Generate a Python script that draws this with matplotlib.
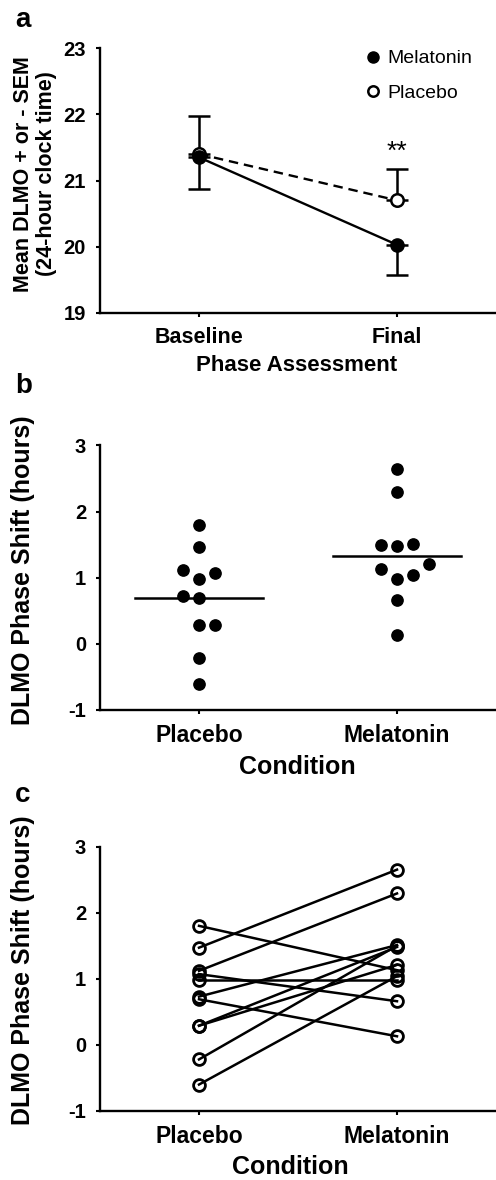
import numpy as np
import matplotlib.pyplot as plt
from matplotlib.lines import Line2D

plt.rcParams['font.family'] = ['Liberation Sans', 'DejaVu Sans']
plt.rcParams['axes.unicode_minus'] = False

# Panel a: group mean DLMO (24-hour clock time) and SEM
phases = ['Baseline', 'Final']
melatonin_mean = [21.35, 20.03]
melatonin_sem = [0.48, 0.46]
placebo_mean = [21.40, 20.70]
placebo_sem = [0.57, 0.47]

# Panels b and c: individual DLMO phase shifts (hours)
conditions = ['Placebo', 'Melatonin']
placebo_shift = [1.80, 1.47, 1.12, 1.07, 0.98, 0.73, 0.69, 0.29, 0.29, -0.22, -0.60]
melatonin_shift = [2.65, 2.29, 1.50, 1.48, 1.51, 1.21, 1.13, 1.04, 0.98, 0.66, 0.13]
# melatonin value of the same subject, in placebo_shift order (panel c)
melatonin_paired = [1.13, 2.65, 2.29, 0.66, 0.98, 1.51, 0.13, 1.48, 1.21, 1.50, 1.04]

# dot-plot columns so overlapping dots sit side by side (panel b)
placebo_col = [0, 0, -1, 1, 0, -1, 0, 0, 1, 0, 0]
melatonin_col = [0, 0, -1, 0, 1, 2, -1, 1, 0, 0, 0]
dot_step = 0.081

W, H = 496, 1180
fig = plt.figure(figsize=(W / 100, H / 100), dpi=100)


def px(x, y):
    return x / W, 1 - y / H


def style_axes(ax, ytick_size, xtick_size):
    for side in ['top', 'right']:
        ax.spines[side].set_visible(False)
    for side in ['left', 'bottom']:
        ax.spines[side].set_linewidth(1.7)
    ax.tick_params(direction='out', length=3, width=1.5, pad=7)
    ax.tick_params(axis='y', labelsize=ytick_size)
    ax.tick_params(axis='x', labelsize=xtick_size)
    for lab in ax.get_xticklabels() + ax.get_yticklabels():
        lab.set_fontweight('bold')
    ax.set_xlim(-0.5, 1.5)


# ---- panel a
ax1 = fig.add_axes([100 / W, 1 - 313 / H, 396 / W, 265 / H])
x = np.arange(len(phases))
ax1.errorbar(x, placebo_mean, yerr=[[0, 0], placebo_sem], fmt='none',
             ecolor='black', elinewidth=1.8, capsize=8, capthick=1.8)
ax1.errorbar(x, melatonin_mean, yerr=[melatonin_sem, [0, 0]], fmt='none',
             ecolor='black', elinewidth=1.8, capsize=8, capthick=1.8)
ax1.plot(x, placebo_mean, color='black', lw=1.7, dashes=(4, 2.5),
         marker='o', ms=9, mfc='white', mec='black', mew=1.8, zorder=3)
ax1.plot(x, melatonin_mean, color='black', lw=1.7,
         marker='o', ms=9.5, mfc='black', mec='black', zorder=4)
ax1.text(x[1], 21.43, '**', ha='center', va='center', fontsize=19)
ax1.set_ylim(19, 23)
ax1.set_yticks([19, 20, 21, 22, 23])
ax1.set_xticks(x)
ax1.set_xticklabels(phases)
style_axes(ax1, 14.5, 15.5)

handles = [
    Line2D([], [], ls='none', marker='o', ms=8, mfc='black', mec='black'),
    Line2D([], [], ls='none', marker='o', ms=7.5, mfc='white', mec='black', mew=1.8),
]
ax1.legend(handles, ['Melatonin', 'Placebo'], loc='upper left',
           bbox_to_anchor=(0.649, 1.03), frameon=False, fontsize=14,
           handlelength=0.6, handletextpad=0.45, labelspacing=0.85, borderpad=0)

fig.text(*px(35, 174), 'Mean DLMO + or - SEM\n(24-hour clock time)', rotation=90,
         ha='center', va='center', fontsize=15.5, fontweight='bold', linespacing=1.15)
fig.text(*px(297, 365), 'Phase Assessment', ha='center', va='center',
         fontsize=16, fontweight='bold')
fig.text(*px(23, 20), 'a', ha='center', va='center', fontsize=20, fontweight='bold')

# ---- panel b
ax2 = fig.add_axes([100 / W, 1 - 710 / H, 396 / W, 264.5 / H])
ax2.scatter(0 + np.array(placebo_col) * dot_step, placebo_shift, s=66,
            color='black', zorder=3)
ax2.scatter(1 + np.array(melatonin_col) * dot_step, melatonin_shift, s=66,
            color='black', zorder=3)
for i, vals in enumerate([placebo_shift, melatonin_shift]):
    ax2.plot([i - 0.325, i + 0.325], [np.mean(vals)] * 2, color='black', lw=1.8)
ax2.set_ylim(-1, 3)
ax2.set_yticks([-1, 0, 1, 2, 3])
ax2.set_xticks([0, 1])
ax2.set_xticklabels(conditions)
style_axes(ax2, 14.5, 16.5)

fig.text(*px(23, 570), 'DLMO Phase Shift (hours)', rotation=90, ha='center',
         va='center', fontsize=18, fontweight='bold')
fig.text(*px(297, 767), 'Condition', ha='center', va='center',
         fontsize=18, fontweight='bold')
fig.text(*px(24, 386), 'b', ha='center', va='center', fontsize=20, fontweight='bold')

# ---- panel c
ax3 = fig.add_axes([100 / W, 1 - 1111 / H, 396 / W, 264.5 / H])
for p, m in zip(placebo_shift, melatonin_paired):
    ax3.plot([0, 1], [p, m], color='black', lw=1.8, marker='o', ms=8.5,
             mfc='none', mec='black', mew=2.0)
ax3.set_ylim(-1, 3)
ax3.set_yticks([-1, 0, 1, 2, 3])
ax3.set_xticks([0, 1])
ax3.set_xticklabels(conditions)
style_axes(ax3, 14.5, 16.5)

fig.text(*px(23, 970), 'DLMO Phase Shift (hours)', rotation=90, ha='center',
         va='center', fontsize=18, fontweight='bold')
fig.text(*px(290, 1167), 'Condition', ha='center', va='center',
         fontsize=18, fontweight='bold')
fig.text(*px(23, 795), 'c', ha='center', va='center', fontsize=20, fontweight='bold')

fig.savefig('out.png', dpi=100)
